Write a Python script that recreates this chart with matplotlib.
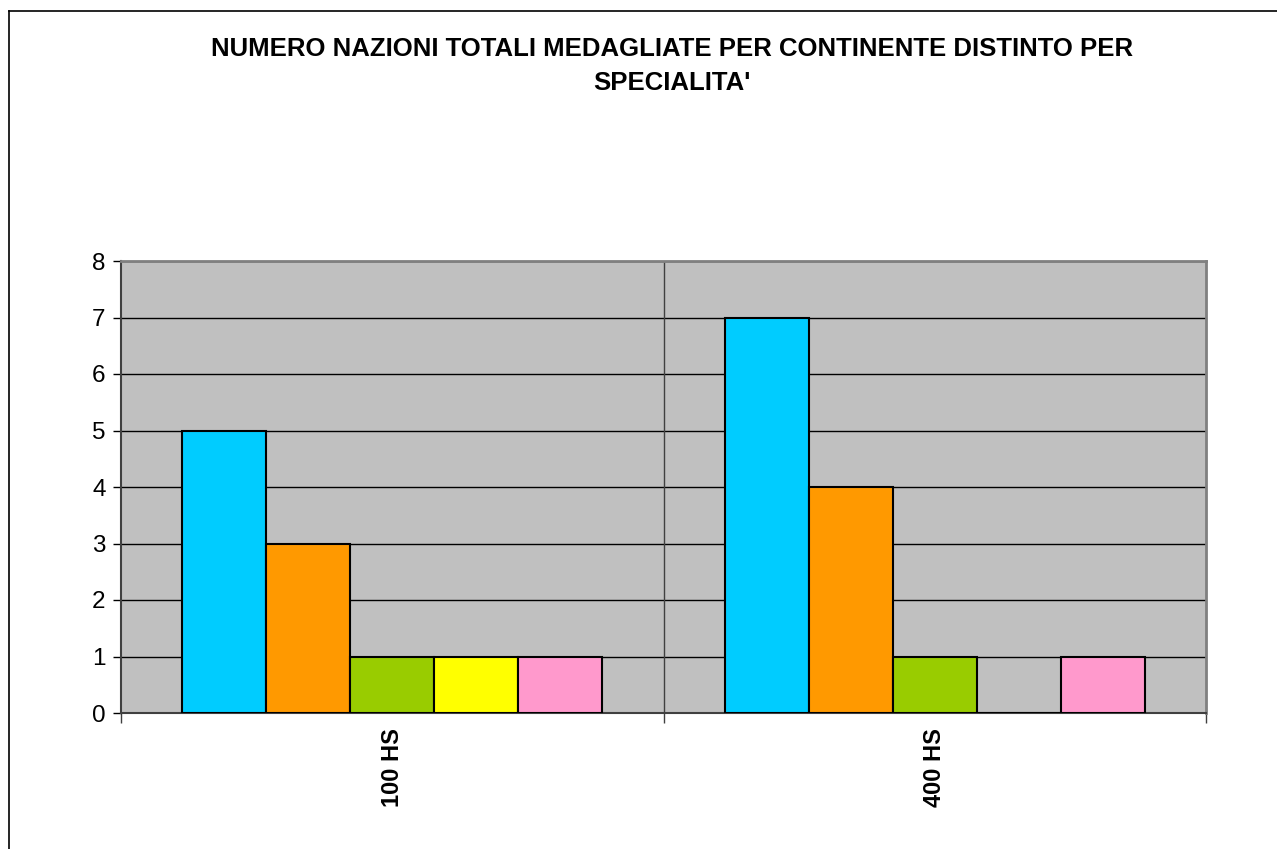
import matplotlib
matplotlib.use("Agg")
import matplotlib.pyplot as plt
from matplotlib.lines import Line2D
import numpy as np

plt.rcParams["font.family"] = ["Liberation Sans", "DejaVu Sans"]

CATEGORIES = ["100 HS", "400 HS"]
SERIES = ["S1", "S2", "S3", "S4", "S5"]
VALUES = [
    [5, 7],
    [3, 4],
    [1, 1],
    [1, 0],
    [1, 1],
]
COLORS = ["#00CCFF", "#FF9900", "#99CC00", "#FFFF00", "#FF99CC"]
TITLE = "NUMERO NAZIONI TOTALI MEDAGLIATE PER CONTINENTE DISTINTO PER\nSPECIALITA'"

W, H = 1277, 849
fig = plt.figure(figsize=(W / 100, H / 100), dpi=100)
ax = fig.add_axes([121 / W, 1 - 713 / H, (1206 - 121) / W, (713 - 261) / H])
ax.set_facecolor("#C0C0C0")

x = np.arange(len(CATEGORIES)) + 0.5
w = 84 / 543
n = len(SERIES)
for i, (vals, c) in enumerate(zip(VALUES, COLORS)):
    off = (i - (n - 1) / 2) * w
    ax.bar(x + off, vals, w, color=c, edgecolor="black", linewidth=1.5, zorder=3)

ax.set_xlim(0, len(CATEGORIES))
ax.set_ylim(0, 8)
ax.set_yticks(range(0, 9))
ax.yaxis.grid(True, color="black", linewidth=1)
ax.set_axisbelow(True)
ax.tick_params(axis="y", labelsize=17.5, length=6, width=1, pad=5, direction="out")

# category boundaries: ticks and vertical gridline
ax.set_xticks(range(len(CATEGORIES) + 1))
ax.set_xticklabels([])
ax.tick_params(axis="x", length=7, width=1, color="#404040")
ax.set_xticks(x, minor=True)
ax.set_xticklabels(CATEGORIES, minor=True, rotation=90, fontsize=17,
                   fontweight="bold", va="top", ha="center")
ax.tick_params(axis="x", which="minor", length=0, pad=11)
for b in range(1, len(CATEGORIES)):
    ax.axvline(b, color="#404040", linewidth=1, zorder=1)

for s in ["left", "bottom"]:
    ax.spines[s].set_color("#404040")
    ax.spines[s].set_linewidth(1.5)
for s in ["top", "right"]:
    ax.spines[s].set_color("#808080")
    ax.spines[s].set_linewidth(2)

fig.text(672 / W, 1 - 66 / H, TITLE, ha="center", va="center",
         fontsize=18.5, fontweight="bold", linespacing=1.5)

# outer chart border
fig.add_artist(Line2D([9 / W, 9 / W], [0, 1 - 11 / H], color="black", linewidth=1.2))
fig.add_artist(Line2D([9 / W, 1], [1 - 11 / H, 1 - 11 / H], color="black", linewidth=1.2))

fig.savefig("out.png", dpi=100)
